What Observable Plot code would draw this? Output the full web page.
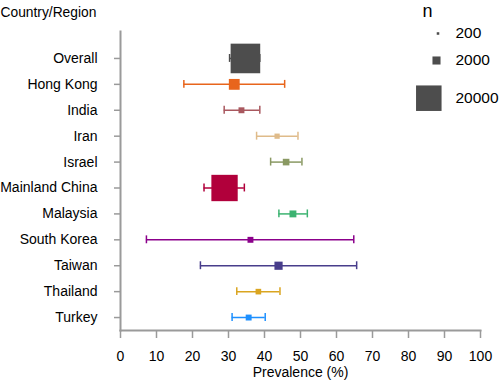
<!DOCTYPE html>
<html>
<head>
<meta charset="utf-8">
<script src="https://cdn.jsdelivr.net/npm/d3@7"></script>
<script src="https://cdn.jsdelivr.net/npm/@observablehq/plot@0.6"></script>
<style>
  html, body { margin: 0; padding: 0; background: #fff; }
  #chart { width: 500px; height: 382px; }
  #chart svg { font-family: "Liberation Sans", Arial, sans-serif; }
</style>
</head>
<body>
<div id="chart"></div>
<script>
// ---- data ----
const regions = ["Overall", "Hong Kong", "India", "Iran", "Israel", "Mainland China",
  "Malaysia", "South Korea", "Taiwan", "Thailand", "Turkey"];
const prevalence = [34.7, 31.6, 33.6, 43.5, 46.0, 28.9, 47.9, 36.1, 43.9, 38.3, 35.6];
const ciLow  = [30.3, 17.6, 28.8, 37.8, 41.7, 23.2, 44.0, 7.2, 22.2, 32.3, 31.0];
const ciHigh = [38.7, 45.6, 38.7, 49.3, 50.4, 34.4, 51.9, 64.8, 65.6, 44.3, 40.2];
const sampleN = [26900, 3600, 1075, 840, 1340, 21300, 1460, 1075, 2060, 970, 1075];
const regionColors = ["#4d4d4d", "#e8651c", "#a9585f", "#dfbb8a", "#8a9963", "#b1003b",
  "#3cb371", "#8b008b", "#483d8b", "#daa520", "#1e90ff"];
const xTicks = [0, 10, 20, 30, 40, 50, 60, 70, 80, 90, 100];
const legendN = ["200", "2000", "20000"];

const rows = regions.map((name, i) => ({
  name, est: prevalence[i], lo: ciLow[i], hi: ciHigh[i], n: sampleN[i]
}));

// ---- layout ----
const axisGray = "#9a9a9a";
const legendDx = [317.5, 316, 308.3];   // offsets from plot's top-left corner
const legendDy = [2, 29, 66.7];
const legendTextDx = 335;

const legendMarks = legendN.flatMap((n, i) => [
  Plot.dot([+n], {r: d => d, symbol: "square", fill: "#4d4d4d", frameAnchor: "top-left",
    dx: legendDx[i], dy: legendDy[i]}),
  Plot.text([n], {text: d => d, frameAnchor: "top-left", dx: legendTextDx, dy: legendDy[i],
    textAnchor: "start", lineAnchor: "middle", fontSize: 15.5, fill: "black"})
]);

const chart = Plot.plot({
  width: 500,
  height: 382,
  marginLeft: 120,
  marginRight: 20,
  marginTop: 31,
  marginBottom: 52,
  style: {fontFamily: "Liberation Sans, Arial, sans-serif", background: "white"},
  x: {domain: [0, 100]},
  y: {type: "band", domain: regions, range: [45, 330], padding: 0, round: false},
  r: {type: "sqrt", domain: [0, 20000], range: [0, 14.4]},
  color: {domain: regions, range: regionColors},
  marks: [
    Plot.frame({anchor: "left", stroke: axisGray, strokeWidth: 2}),
    Plot.frame({anchor: "bottom", stroke: axisGray, strokeWidth: 2}),
    Plot.axisX({ticks: xTicks, tickSize: 8, tickPadding: 13, fontSize: 14,
      stroke: axisGray, strokeWidth: 1.5, fill: "black",
      label: "Prevalence (%)", labelAnchor: "center", labelArrow: "none", labelOffset: 46}),
    Plot.axisY({tickSize: 6, tickPadding: 17, fontSize: 14, stroke: axisGray, strokeWidth: 1.5,
      fill: "black", label: null}),
    Plot.ruleY(rows, {y: "name", x1: "lo", x2: "hi", stroke: "name", strokeWidth: 1.5}),
    Plot.tickX(rows, {x: "lo", y: "name", stroke: "name", strokeWidth: 1.5, insetTop: 9, insetBottom: 9}),
    Plot.tickX(rows, {x: "hi", y: "name", stroke: "name", strokeWidth: 1.5, insetTop: 9, insetBottom: 9}),
    Plot.dot(rows, {x: "est", y: "name", r: "n", symbol: "square", fill: "name"}),
    Plot.text(["Country/Region"], {text: d => d, frameAnchor: "top-left", dx: -120, dy: -19,
      textAnchor: "start", lineAnchor: "middle", fontSize: 13.8, fill: "black"}),
    Plot.text(["n"], {text: d => d, frameAnchor: "top-left", dx: 307, dy: -20,
      textAnchor: "middle", lineAnchor: "middle", fontSize: 18, fill: "black"}),
    ...legendMarks
  ]
});
document.getElementById("chart").appendChild(chart);
</script>
</body>
</html>
